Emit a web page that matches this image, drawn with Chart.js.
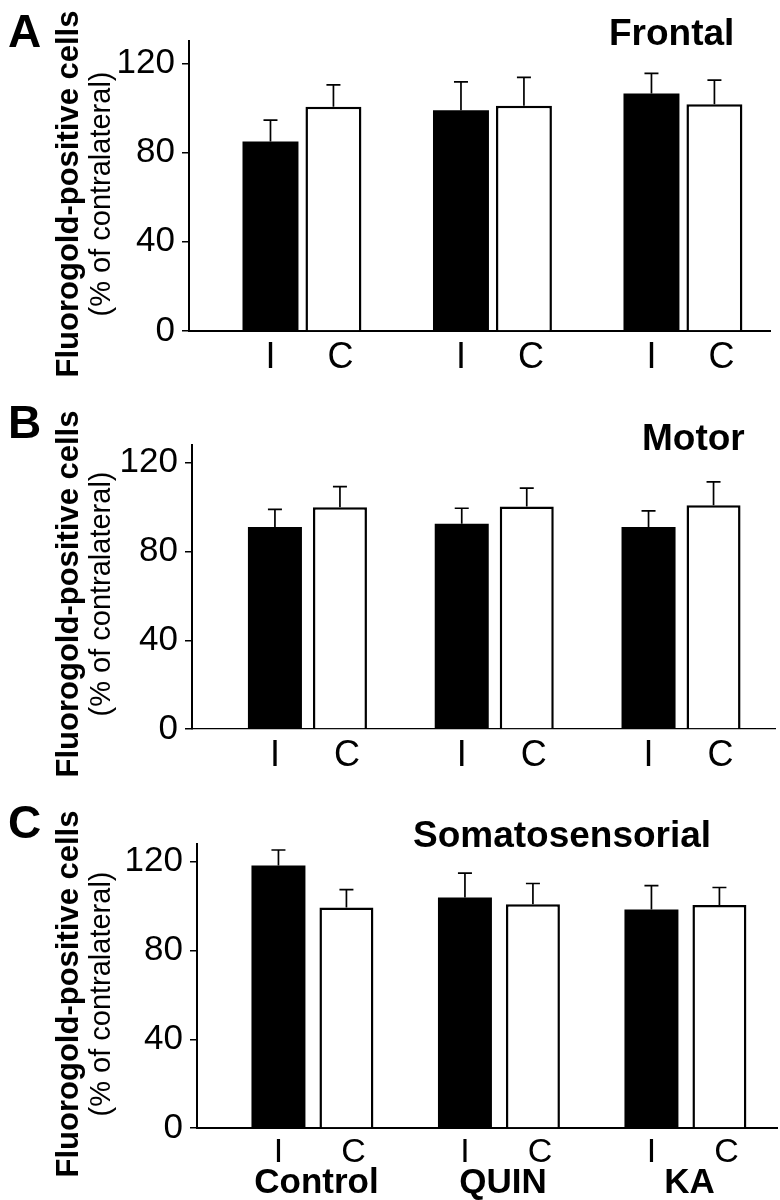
<!DOCTYPE html>
<html lang="en">
<head>
<meta charset="UTF-8">
<title>Fluorogold-positive cells</title>
<style>
  body { margin: 0; background: #fff; }
  .panel { position: absolute; left: 0; width: 780px; height: 400px; }
  canvas { display: block; }
</style>
<script src="https://cdn.jsdelivr.net/npm/chart.js"></script>
</head>
<body>
<div class="panel" style="top:0"><canvas id="chartA" width="780" height="400"></canvas></div>
<div class="panel" style="top:400px"><canvas id="chartB" width="780" height="400"></canvas></div>
<div class="panel" style="top:800px"><canvas id="chartC" width="780" height="400"></canvas></div>
<script>
// groups and tick labels
const groups = ['Control', 'QUIN', 'KA'];
const sideLabels = ['I', 'C'];
const yTicks = [0, 40, 80, 120];

// A - frontal
const frontalIpsi = [85, 99, 106.5];
const frontalIpsiErr = [9.5, 12.7, 9];
const frontalContra = [100.5, 101, 101.6];
const frontalContraErr = [9.8, 12.7, 10.9];

// B - motor
const motorIpsi = [91, 92.5, 91];
const motorIpsiErr = [8, 7, 7.3];
const motorContra = [100, 100.3, 100.8];
const motorContraErr = [9.2, 8.3, 10.6];

// C - somatosensorial
const somatoIpsi = [118.3, 103.9, 98.5];
const somatoIpsiErr = [7, 11, 10.7];
const somatoContra = [99.4, 100.9, 100.5];
const somatoContraErr = [8, 9.3, 7.9];

const FONT = "'Liberation Sans', Arial, sans-serif";

const panels = [
  { canvas: 'chartA', letter: 'A', title: 'Frontal', titleX: 609, titleY: 45, letterY: 47,
    ipsi: frontalIpsi, ipsiErr: frontalIpsiErr, contra: frontalContra, contraErr: frontalContraErr,
    yMax: 130, top: 41, bottom: 331, axisX: 189, axisEnd: 770, xMin: -0.593, xMax: 2.457,
    cp: 0.661, bp: 0.889, xBorder: 2, sideY: 368, sideSize: 36, showGroups: false },
  { canvas: 'chartB', letter: 'B', title: 'Motor', titleX: 642, titleY: 50, letterY: 38,
    ipsi: motorIpsi, ipsiErr: motorIpsiErr, contra: motorContra, contraErr: motorContraErr,
    yMax: 128, top: 45, bottom: 329, axisX: 192, axisEnd: 775, xMin: -0.618, xMax: 2.503,
    cp: 0.696, bp: 0.831, xBorder: 1.2, sideY: 366, sideSize: 36, showGroups: false },
  { canvas: 'chartC', letter: 'C', title: 'Somatosensorial', titleX: 413, titleY: 47, letterY: 38,
    ipsi: somatoIpsi, ipsiErr: somatoIpsiErr, contra: somatoContra, contraErr: somatoContraErr,
    yMax: 128, top: 44, bottom: 328, axisX: 197, axisEnd: 777, xMin: -0.619, xMax: 2.491,
    cp: 0.729, bp: 0.794, xBorder: 2, sideY: 362, sideSize: 34, showGroups: true, groupY: 393 }
];

function makeAnnotations(p) {
  const vals = [p.ipsi, p.contra];
  const errs = [p.ipsiErr, p.contraErr];
  return {
    id: 'annotate' + p.letter,
    afterDatasetsDraw(chart) {
      const ctx = chart.ctx, y = chart.scales.y;
      ctx.save();
      ctx.strokeStyle = '#000';
      ctx.lineWidth = 1.7;
      errs.forEach((e, d) => {
        chart.getDatasetMeta(d).data.forEach((bar, i) => {
          const top = y.getPixelForValue(vals[d][i] + e[i]);
          ctx.beginPath();
          ctx.moveTo(bar.x, bar.y);
          ctx.lineTo(bar.x, top);
          ctx.moveTo(bar.x - 7, top);
          ctx.lineTo(bar.x + 7, top);
          ctx.stroke();
        });
      });
      ctx.restore();
    },
    afterDraw(chart) {
      const ctx = chart.ctx;
      ctx.save();
      ctx.fillStyle = '#000';
      ctx.textBaseline = 'alphabetic';

      ctx.textAlign = 'left';
      ctx.font = 'bold 46px ' + FONT;
      ctx.fillText(p.letter, 8, p.letterY);
      ctx.font = 'bold 37px ' + FONT;
      ctx.fillText(p.title, p.titleX, p.titleY);

      // rotated y title, two lines
      ctx.textAlign = 'center';
      ctx.save();
      ctx.translate(78, 194);
      ctx.rotate(-Math.PI / 2);
      ctx.font = 'bold 31px ' + FONT;
      ctx.fillText('Fluorogold-positive cells', 0, 0);
      ctx.restore();
      ctx.save();
      ctx.translate(110, 194);
      ctx.rotate(-Math.PI / 2);
      ctx.font = '29px ' + FONT;
      ctx.fillText('(% of contralateral)', 0, 0);
      ctx.restore();

      // I / C under each bar
      ctx.font = p.sideSize + 'px ' + FONT;
      const m0 = chart.getDatasetMeta(0).data, m1 = chart.getDatasetMeta(1).data;
      [m0, m1].forEach((bars, d) => {
        bars.forEach(bar => ctx.fillText(sideLabels[d], bar.x + (d ? 7 : 0), p.sideY));
      });

      if (p.showGroups) {
        ctx.font = 'bold 35px ' + FONT;
        groups.forEach((g, i) => ctx.fillText(g, (m0[i].x + m1[i].x) / 2 + 4, p.groupY));
      }
      ctx.restore();
    }
  };
}

panels.forEach(p => {
  new Chart(document.getElementById(p.canvas), {
    type: 'bar',
    data: {
      datasets: [
        { label: 'I', data: groups.map((g, i) => ({ x: i, y: p.ipsi[i] })),
          backgroundColor: '#000', borderWidth: 0 },
        { label: 'C', data: groups.map((g, i) => ({ x: i, y: p.contra[i] })),
          backgroundColor: '#fff', borderColor: '#000', borderWidth: 2.5 }
      ]
    },
    options: {
      responsive: false,
      animation: false,
      events: [],
      categoryPercentage: p.cp,
      barPercentage: p.bp,
      layout: { padding: { left: 0, top: p.top, right: 780 - p.axisEnd, bottom: 400 - p.bottom } },
      plugins: { legend: { display: false }, tooltip: { enabled: false } },
      scales: {
        x: {
          type: 'linear',
          offset: false,
          min: p.xMin,
          max: p.xMax,
          grid: { display: false },
          border: { display: true, color: '#000', width: p.xBorder },
          ticks: { display: false },
          afterBuildTicks: s => { s.ticks = groups.map((g, i) => ({ value: i })); },
          afterFit: s => { s.height = 0; }
        },
        y: {
          min: 0,
          max: p.yMax,
          ticks: { stepSize: 40, color: '#000', padding: 7, font: { family: FONT, size: 35 } },
          grid: { drawOnChartArea: false, drawTicks: true, tickLength: 7, color: '#000', lineWidth: 1.5 },
          border: { display: true, color: '#000', width: 2 },
          afterBuildTicks: s => { s.ticks = yTicks.map(v => ({ value: v })); },
          afterFit: s => { s.width = p.axisX; }
        }
      }
    },
    plugins: [makeAnnotations(p)]
  });
});
</script>
</body>
</html>
